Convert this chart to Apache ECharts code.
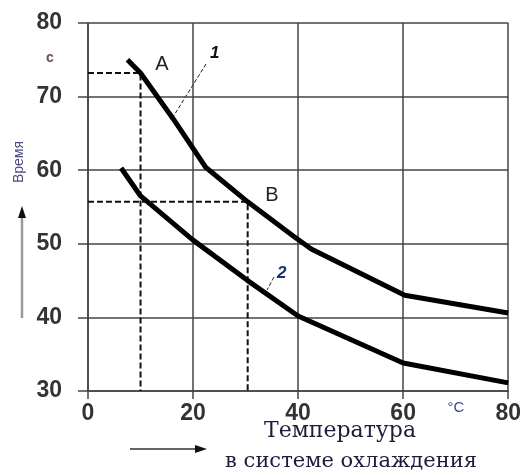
<!DOCTYPE html>
<html><head><meta charset="utf-8">
<script src="https://cdn.jsdelivr.net/npm/echarts@6/dist/echarts.min.js"></script>
<style>html,body{margin:0;padding:0;background:#fff}#c{width:524px;height:472px}</style>
</head><body><div id="c"></div>
<script>
var xTicks = [0, 20, 40, 60, 80];
var yTicks = [30, 40, 50, 60, 70, 80];
var curve1 = [[7.5, 75.0], [10, 73.2], [16.2, 67.0], [22.4, 60.4], [30.4, 55.7], [39, 51.1], [42.5, 49.3], [60.3, 43.0], [80, 40.6]];
var curve2 = [[6.3, 60.3], [10, 56.5], [20, 50.5], [30.4, 45.0], [40, 40.2], [60, 33.8], [80, 31.1]];
var pointA = [10, 73.2];
var pointB = [30.4, 55.7];

var chart = echarts.init(document.getElementById('c'));
var dash = {color: '#111', width: 2, type: [6, 3]};
function guide(p) { return [[0, p[1]], [p[0], p[1]], [p[0], yTicks[0]]]; }
var lbl = {fontSize: 23, fontWeight: 'bold', color: '#333', fontFamily: 'Liberation Sans'};
chart.setOption({
  animation: false,
  grid: {left: 88, top: 23, right: 15, bottom: 81},
  xAxis: {
    type: 'value', min: xTicks[0], max: xTicks[xTicks.length - 1], interval: 20,
    axisLine: {show: true, lineStyle: {color: '#444', width: 1.5}},
    axisTick: {show: true, length: 8, lineStyle: {color: '#444', width: 1.5}},
    splitLine: {show: true, lineStyle: {color: '#444', width: 1.5}},
    axisLabel: Object.assign({margin: 11}, lbl)
  },
  yAxis: {
    type: 'value', min: yTicks[0], max: yTicks[yTicks.length - 1], interval: 10,
    axisLine: {show: true, lineStyle: {color: '#444', width: 1.5}},
    axisTick: {show: true, length: 10, lineStyle: {color: '#444', width: 1.5}},
    splitLine: {show: true, lineStyle: {color: '#444', width: 1.5}},
    axisLabel: Object.assign({margin: 26}, lbl)
  },
  series: [
    {type: 'line', data: guide(pointA), symbol: 'none', lineStyle: dash, z: 3},
    {type: 'line', data: guide(pointB), symbol: 'none', lineStyle: dash, z: 3},
    {type: 'line', data: curve1, symbol: 'none', lineStyle: {color: '#000', width: 5}, z: 5},
    {type: 'line', data: curve2, symbol: 'none', lineStyle: {color: '#000', width: 5}, z: 5}
  ],
  graphic: [
    {type: 'text', x: 162, y: 64, style: {text: 'A', font: '20px "Liberation Sans"', fill: '#222', align: 'center', verticalAlign: 'middle'}},
    {type: 'text', x: 272, y: 195, style: {text: 'B', font: '20px "Liberation Sans"', fill: '#222', align: 'center', verticalAlign: 'middle'}},
    {type: 'text', left: 210, top: 45, style: {text: '1', font: 'italic bold 17px "Liberation Sans"', fill: '#111'}},
    {type: 'line', shape: {x1: 206, y1: 64, x2: 173, y2: 117}, style: {stroke: '#222', lineWidth: 1, lineDash: [4, 2]}},
    {type: 'text', left: 277, top: 265, style: {text: '2', font: 'italic bold 17px "Liberation Sans"', fill: '#1a2f7a'}},
    {type: 'line', shape: {x1: 274, y1: 277, x2: 267, y2: 290}, style: {stroke: '#222', lineWidth: 1, lineDash: [4, 2]}},
    {type: 'text', x: 50, y: 58, style: {text: 'с', font: 'bold 14px "Liberation Sans"', fill: '#6a5060', align: 'center', verticalAlign: 'middle'}},
    {type: 'text', x: 19, y: 162, rotation: Math.PI / 2, style: {text: 'Время', font: '14px "Liberation Sans"', fill: '#4a4a80', align: 'center', verticalAlign: 'middle'}},
    {type: 'line', shape: {x1: 22, y1: 318, x2: 22, y2: 216}, style: {stroke: '#999', lineWidth: 2.5}},
    {type: 'polygon', shape: {points: [[22, 206], [18, 218], [26, 218]]}, style: {fill: '#111'}},
    {type: 'line', shape: {x1: 130, y1: 449, x2: 196, y2: 449}, style: {stroke: '#333', lineWidth: 1.5}},
    {type: 'polygon', shape: {points: [[207, 449], [195, 445], [195, 453]]}, style: {fill: '#111'}},
    {type: 'text', x: 456, y: 408, style: {text: '°C', font: '15px "Liberation Sans"', fill: '#3a4a8a', align: 'center', verticalAlign: 'middle'}},
    {type: 'text', x: 340, y: 431, style: {text: 'Температура', font: '22px "DejaVu Serif"', fill: '#1c1c3c', align: 'center', verticalAlign: 'middle'}},
    {type: 'text', x: 351, y: 462, style: {text: 'в системе охлаждения', font: '21px "DejaVu Serif"', fill: '#1c1c3c', align: 'center', verticalAlign: 'middle'}}
  ]
});
</script></body></html>
